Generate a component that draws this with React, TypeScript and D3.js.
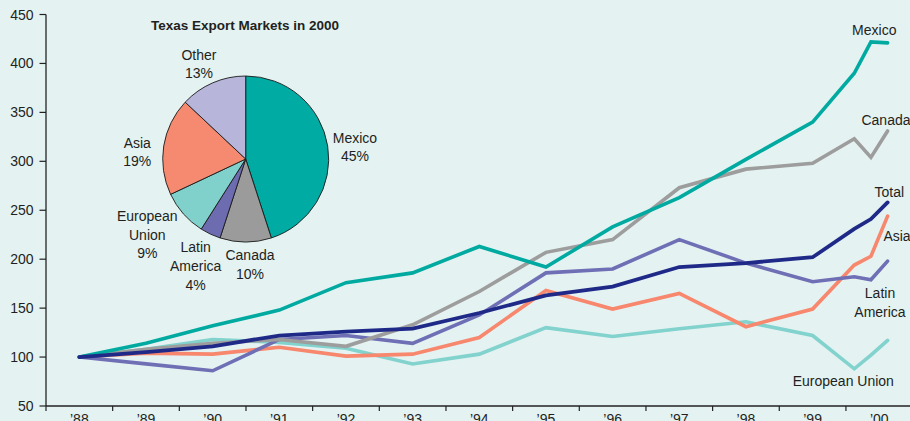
import React from "react";
import * as d3 from "d3";

const W = 910;
const H = 421;

// x positions: annual points at mid-year, 2000 quarterly (Q1..Q3)
const periods = [1988.5, 1989.5, 1990.5, 1991.5, 1992.5, 1993.5, 1994.5, 1995.5, 1996.5, 1997.5, 1998.5, 1999.5, 2000.125, 2000.375, 2000.625];

const mexico = [100, 114, 132, 148, 176, 186, 213, 192, 233, 263, 302, 340, 390, 422, 421];
const canada = [100, 108, 114, 118, 111, 133, 167, 207, 220, 273, 292, 298, 323, 304, 331];
const total = [100, 105, 111, 122, 126, 129, 145, 163, 172, 192, 196, 202, 231, 241, 258];
const asia = [100, 104, 103, 110, 101, 103, 120, 168, 149, 165, 131, 149, 194, 203, 244];
const latinAmerica = [100, 93, 86, 118, 122, 114, 143, 186, 190, 220, 196, 177, 182, 179, 198];
const europeanUnion = [100, 108, 118, 115, 109, 93, 103, 130, 121, 129, 136, 122, 88, 102, 117];

const yTicks = [50, 100, 150, 200, 250, 300, 350, 400, 450];
const yearTicks = d3.range(1988, 2002);
const yearLabels = ["’88", "’89", "’90", "’91", "’92", "’93", "’94", "’95", "’96", "’97", "’98", "’99", "’00"];

const pieNames = ["Mexico", "Canada", "Latin America", "European Union", "Asia", "Other"];
const pieValues = [45, 10, 4, 9, 19, 13];

const FONT = "'Liberation Sans', Arial, sans-serif";
const TEXT = "#231f20";

const colors: Record<string, string> = {
  Mexico: "#00aaa0",
  Canada: "#9d9d9d",
  Total: "#1f2a88",
  Asia: "#f7876d",
  "Latin America": "#6e6fb4",
  "European Union": "#82d2cd",
  Other: "#b9b6dc",
};
const pieColors: Record<string, string> = {
  Mexico: "#00aba3",
  Canada: "#9b9b9b",
  "Latin America": "#6d6cb0",
  "European Union": "#80d0cc",
  Asia: "#f58a70",
  Other: "#b8b5db",
};

export default function App() {
  const x = d3.scaleLinear().domain([1988, 2001]).range([46, 912.6]);
  const y = d3.scaleLinear().domain([50, 450]).range([406, 14.5]);
  const line = d3
    .line<number>()
    .x((_, i) => x(periods[i]))
    .y((d) => y(d));

  const series = [
    { name: "European Union", data: europeanUnion, w: 3.6 },
    { name: "Asia", data: asia, w: 3.6 },
    { name: "Latin America", data: latinAmerica, w: 3.6 },
    { name: "Canada", data: canada, w: 3.6 },
    { name: "Mexico", data: mexico, w: 3.6 },
    { name: "Total", data: total, w: 3.8 },
  ];

  const pie = d3.pie<number>().sort(null)(pieValues);
  const arc = d3.arc<d3.PieArcDatum<number>>().innerRadius(0).outerRadius(83);
  const cx = 245.7;
  const cy = 159;

  const pieLabels: { lines: string[]; x: number; y: number }[] = [
    { lines: ["Mexico", "45%"], x: 355, y: 142.7 },
    { lines: ["Canada", "10%"], x: 250, y: 260 },
    { lines: ["Latin", "America", "4%"], x: 195.7, y: 252.3 },
    { lines: ["European", "Union", "9%"], x: 147.3, y: 221 },
    { lines: ["Asia", "19%"], x: 137.3, y: 147.7 },
    { lines: ["Other", "13%"], x: 199, y: 59.5 },
  ];

  const lineLabels: { lines: string[]; x: number; y: number }[] = [
    { lines: ["Mexico"], x: 874.3, y: 35 },
    { lines: ["Canada"], x: 886, y: 125 },
    { lines: ["Total"], x: 889.3, y: 196.7 },
    { lines: ["Asia"], x: 897, y: 240.7 },
    { lines: ["Latin", "America"], x: 880, y: 297.7 },
    { lines: ["European Union"], x: 843.3, y: 386 },
  ];

  return (
    <svg
      width={W}
      height={H}
      style={{ position: "absolute", left: 0, top: 0, background: "#e4f2f2" }}
      fontFamily={FONT}
    >
      <rect x={0} y={0} width={W} height={H} fill="#e4f2f2" />

      {/* axes */}
      <line x1={46} x2={46} y1={y(450)} y2={406} stroke="#222" strokeWidth={1.3} />
      <line x1={46} x2={W} y1={406} y2={406} stroke="#222" strokeWidth={1.3} />
      {yTicks.map((t) => (
        <g key={t}>
          <line x1={39.5} x2={46} y1={y(t)} y2={y(t)} stroke="#222" strokeWidth={1.2} />
          <text x={33.5} y={y(t) + 5} textAnchor="end" fontSize={14} fill={TEXT}>
            {t}
          </text>
        </g>
      ))}
      {yearTicks.map((t) => (
        <line key={t} x1={x(t)} x2={x(t)} y1={406} y2={411} stroke="#222" strokeWidth={1.2} />
      ))}
      {yearLabels.map((l, i) => (
        <text key={l} x={x(1988 + i + 0.5)} y={424} textAnchor="middle" fontSize={14} fill={TEXT}>
          {l}
        </text>
      ))}

      {/* lines */}
      {series.map((s) => (
        <path
          key={s.name}
          d={line(s.data) || ""}
          fill="none"
          stroke={colors[s.name]}
          strokeWidth={s.w}
          strokeLinejoin="miter"
          strokeLinecap="round"
        />
      ))}

      {lineLabels.map((lb) => (
        <text key={lb.lines.join()} x={lb.x} y={lb.y} textAnchor="middle" fontSize={14} fill={TEXT}>
          {lb.lines.map((t, i) => (
            <tspan key={t} x={lb.x} dy={i === 0 ? 0 : 19}>
              {t}
            </tspan>
          ))}
        </text>
      ))}

      {/* pie */}
      <text x={245} y={30} textAnchor="middle" fontSize={13.5} fontWeight="bold" fill={TEXT}>
        Texas Export Markets in 2000
      </text>
      <g transform={`translate(${cx},${cy})`}>
        {pie.map((p, i) => (
          <path
            key={pieNames[i]}
            d={arc(p) || ""}
            fill={pieColors[pieNames[i]]}
            stroke="#1a1a1a"
            strokeWidth={0.9}
          />
        ))}
      </g>
      {pieLabels.map((lb) => (
        <text key={lb.lines.join()} x={lb.x} y={lb.y} textAnchor="middle" fontSize={14} fill={TEXT}>
          {lb.lines.map((t, i) => (
            <tspan key={t} x={lb.x} dy={i === 0 ? 0 : 18.7}>
              {t}
            </tspan>
          ))}
        </text>
      ))}
    </svg>
  );
}
